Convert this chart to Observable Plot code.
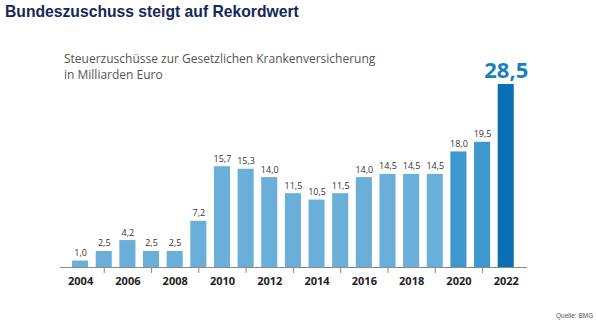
<!DOCTYPE html>
<html>
<head>
<meta charset="utf-8">
<script src="https://cdn.jsdelivr.net/npm/d3@7"></script>
<script src="https://cdn.jsdelivr.net/npm/@observablehq/plot@0.6"></script>
<style>
  html, body { margin: 0; padding: 0; background: #fff; }
  #wrap { position: relative; width: 596px; height: 321px; overflow: hidden; }
  #title { position: absolute; left: 5px; top: 3px; font: bold 15.7px "Liberation Sans", Arial, sans-serif; color: #14285a; white-space: nowrap; }
  #subtitle { position: absolute; left: 64px; top: 51px; font: 12px "Open Sans", sans-serif; line-height: 16px; color: #555; white-space: nowrap; }
  #caption { position: absolute; left: 556px; top: 312px; font: 6.5px "Liberation Sans", Arial, sans-serif; color: #555; white-space: nowrap; }
  #chart { position: absolute; left: 0; top: 0; }
</style>
</head>
<body>
<div id="wrap">
  <div id="chart"></div>
  <div id="title">Bundeszuschuss steigt auf Rekordwert</div>
  <div id="subtitle">Steuerzuschüsse zur Gesetzlichen Krankenversicherung<br>in Milliarden Euro</div>
  <div id="caption">Quelle: BMG</div>
</div>
<script>
const years = [2004, 2005, 2006, 2007, 2008, 2009, 2010, 2011, 2012, 2013, 2014, 2015, 2016, 2017, 2018, 2019, 2020, 2021, 2022];
const values = [1.0, 2.5, 4.2, 2.5, 2.5, 7.2, 15.7, 15.3, 14.0, 11.5, 10.5, 11.5, 14.0, 14.5, 14.5, 14.5, 18.0, 19.5, 28.5];
const groups = ["alt", "alt", "alt", "alt", "alt", "alt", "alt", "alt", "alt", "alt", "alt", "alt", "alt", "alt", "alt", "alt", "neu", "neu", "rekord"];
const labelYears = [2004, 2006, 2008, 2010, 2012, 2014, 2016, 2018, 2020, 2022];
const tickYears = [2005, 2007, 2009, 2011, 2013, 2015, 2017, 2019, 2021];

const data = years.map((y, i) => ({year: y, value: values[i], group: groups[i]}));
const fmt = v => v.toFixed(1).replace(".", ",");
const colors = {alt: "#6aafd9", neu: "#3e98cd", rekord: "#0b70b3"};

const chart = Plot.plot({
  width: 596,
  height: 321,
  marginLeft: 60,
  marginRight: 69,
  marginTop: 84,
  marginBottom: 54,
  x: {type: "linear", domain: [2003.15, 2022.9]},
  y: {domain: [0, 28.5], axis: null},
  style: {fontFamily: "'Open Sans', sans-serif", background: "transparent"},
  marks: [
    Plot.rectY(data, {x1: d => d.year - 0.34, x2: d => d.year + 0.34, y: "value", fill: d => colors[d.group]}),
    Plot.axisX({ticks: tickYears, tickSize: 6, tickFormat: () => "", stroke: "#8a8a8a", label: null}),
    Plot.ruleY([0], {stroke: "#8a8a8a", strokeWidth: 1}),
    Plot.text(data.filter(d => d.group !== "rekord"), {x: "year", y: "value", text: d => fmt(d.value), lineAnchor: "bottom", dy: -5, fontSize: 9, fontWeight: 500, fill: "#333"}),
    Plot.text(data.filter(d => d.group === "rekord"), {x: "year", y: "value", text: d => fmt(d.value), lineAnchor: "bottom", dy: -7, fontSize: 22, fontWeight: "bold", fill: "#1a7fc0"}),
    Plot.text(labelYears, {x: d => d, y: 0, text: d => String(d), lineAnchor: "top", dy: 10, fontSize: 11, fontWeight: "bold", fill: "#222"})
  ]
});
document.getElementById("chart").appendChild(chart);
</script>
</body>
</html>
